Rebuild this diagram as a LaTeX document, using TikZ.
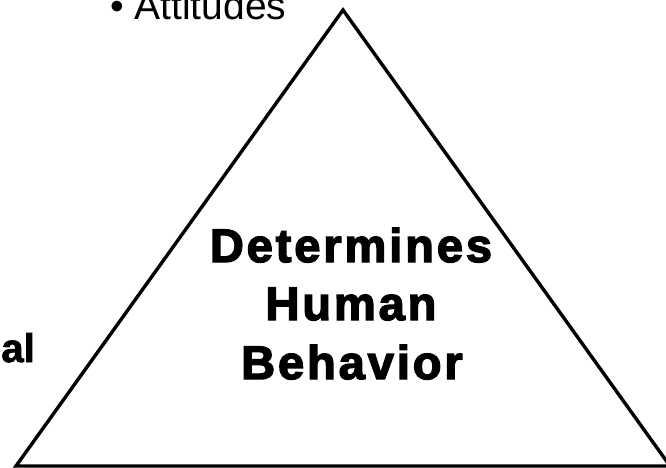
\documentclass[tikz,border=0pt]{standalone}
\usepackage{fontspec}
\setmainfont{Liberation Sans}[BoldFeatures={FakeBold=2}]
\newfontfamily\headfont{Liberation Sans}[LetterSpace=6.2,BoldFeatures={FakeBold=3}]
\begin{document}
\begin{tikzpicture}[x=1pt,y=-1pt,
  caption/.style={inner sep=0pt, outer sep=0pt, anchor=base},
  headline/.style={caption, font=\headfont\bfseries\fontsize{47}{47}\selectfont},
  sidetext/.style={inner sep=0pt, outer sep=0pt, font=\fontsize{39}{39}\selectfont},
  edge/.style={line width=3.4pt, line join=miter, draw=black}]
  \useasboundingbox (0,0) rectangle (666,468);
  \clip (0,0) rectangle (666,468);

  % pyramid outline
  \coordinate (apex) at (343,10);
  \coordinate (bl) at (16,466);
  \coordinate (br) at (670,466);
  \draw[edge] (apex) -- (bl) -- (br) -- cycle;

  % centre caption
  \node[headline] (l1) at (351,262) {Determines};
  \node[headline] (l2) at (351,320) {Human};
  \node[headline] (l3) at (352,379) {Behavior};

  % surrounding labels
  \node[sidetext, anchor=base west] (att) at (110,20) {• Attitudes};
  \node[inner sep=0pt, anchor=base east, font=\bfseries\fontsize{40}{40}\selectfont] (emo) at (35,362) {al};
\end{tikzpicture}
\end{document}
